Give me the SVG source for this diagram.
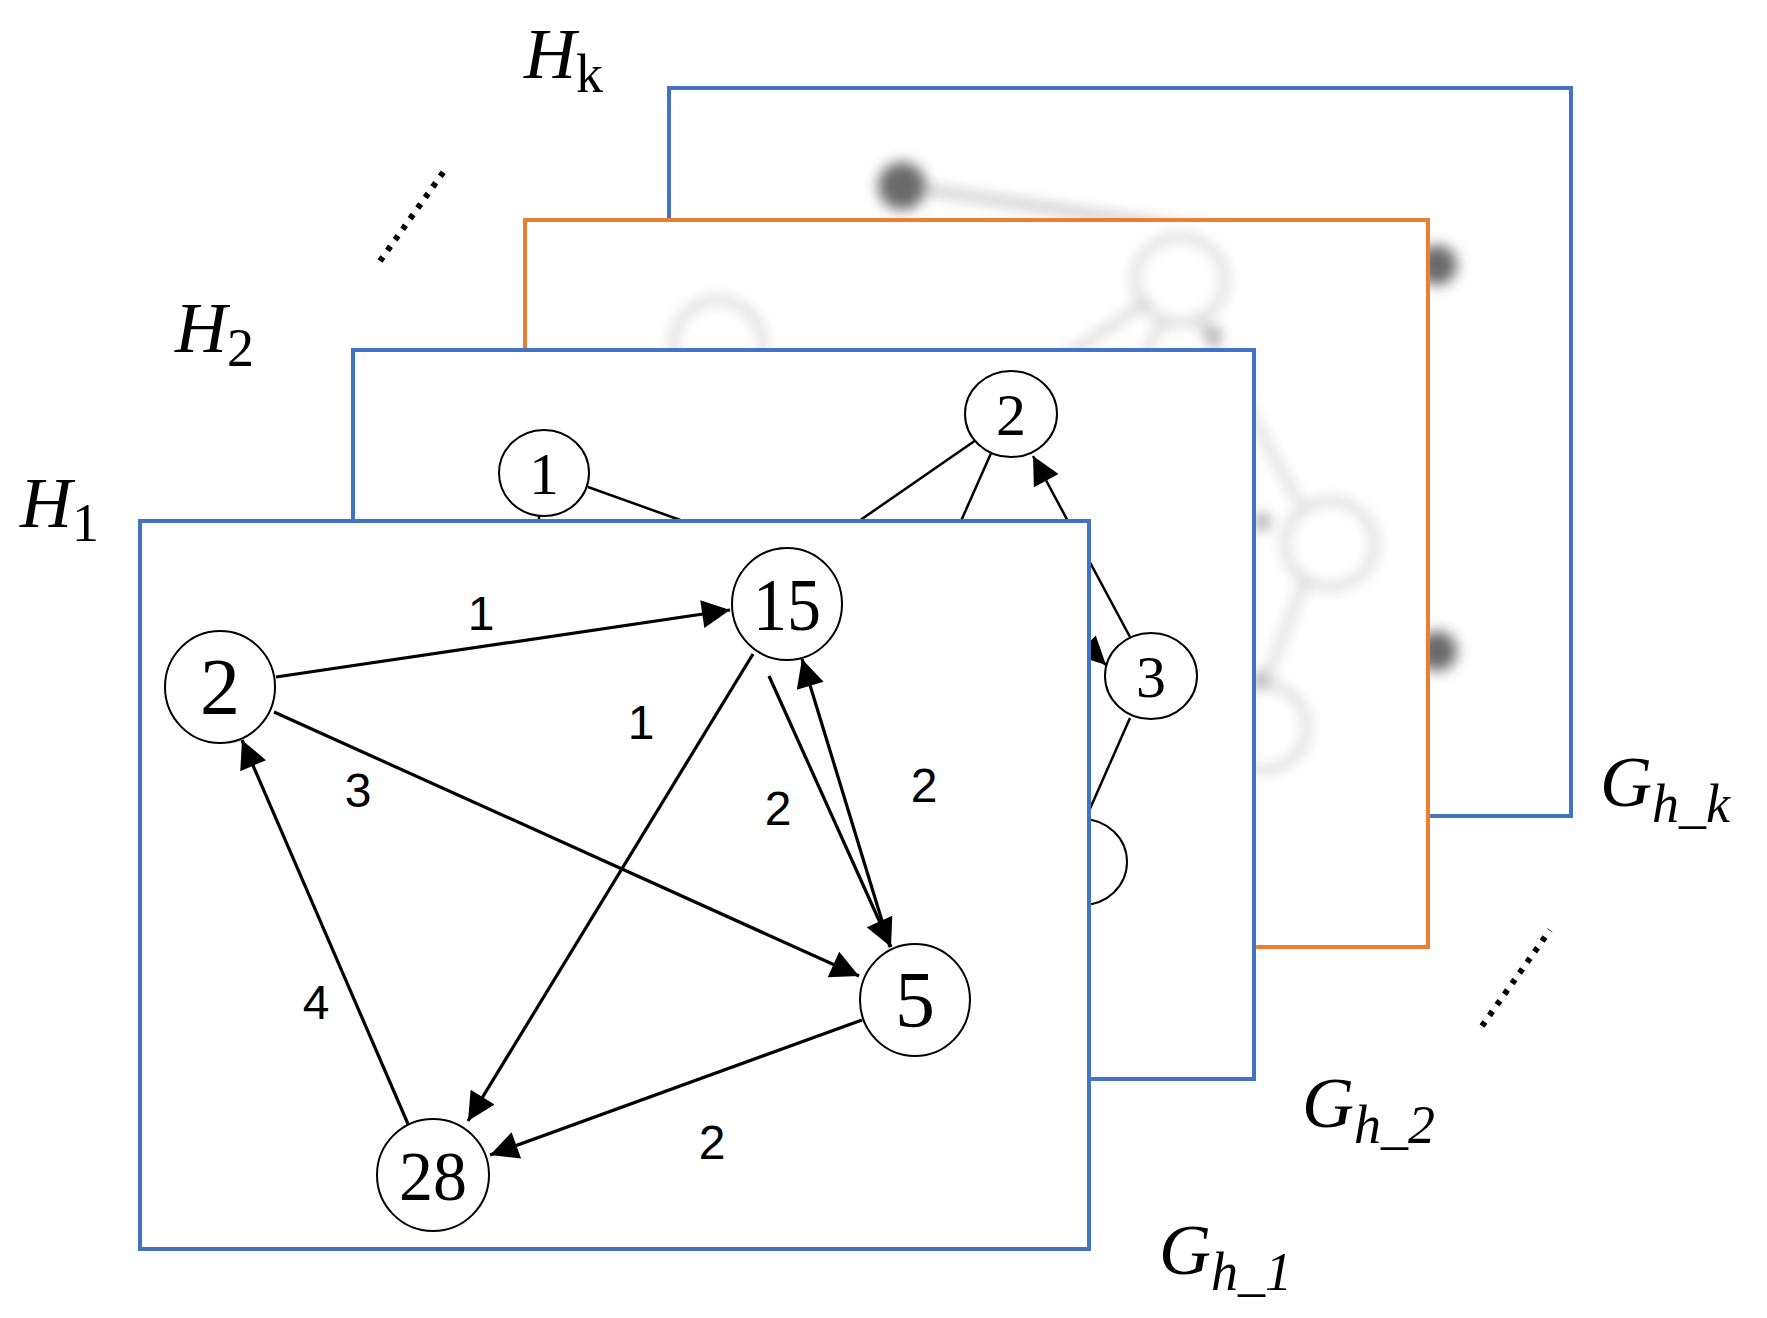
<svg xmlns="http://www.w3.org/2000/svg" width="1767" height="1318" viewBox="0 0 1767 1318">
<style>
.frame{fill:#fff;stroke-width:4}
.blue{stroke:#4472C4}
.orange{stroke:#ED7D31}
.node ellipse{fill:#fff;stroke:#000;stroke-width:2}
.ntxt{font-family:"Liberation Serif","Times New Roman",serif;text-anchor:middle;fill:#000}
.e{stroke:#000;stroke-width:3.2;fill:none}
.elab{font-family:"Liberation Sans",sans-serif;font-size:48px;text-anchor:middle;fill:#000}
.lab{font-family:"Liberation Serif",serif;font-style:italic;font-size:72px;fill:#000}
.sub{font-size:54px}
.dots{stroke:#000;stroke-width:6;stroke-dasharray:5 8;fill:none}
</style>
<defs>
<marker id="ahB" viewBox="0 0 10 10" refX="10" refY="5" markerWidth="32" markerHeight="28" markerUnits="userSpaceOnUse" orient="auto"><path d="M0,0 L10,5 L0,10 z" fill="#000"/></marker>
<filter id="blur" x="-20%" y="-20%" width="140%" height="140%"><feGaussianBlur stdDeviation="7"/></filter>
</defs>

<g id="frame-hk">
<rect class="frame blue" x="669" y="88" width="902" height="728"/>
<g filter="url(#blur)" opacity="0.8">
<line x1="902" y1="186" x2="1431" y2="265" stroke="#999" stroke-width="6"/>
<circle cx="902" cy="186" r="24" fill="#444"/>
<circle cx="1437" cy="265" r="20" fill="#444"/>
<circle cx="1437" cy="651" r="20" fill="#444"/>
</g>
</g>

<g id="frame-h2">
<rect class="frame orange" x="525" y="220" width="903" height="727"/>
<g filter="url(#blur)" opacity="0.55" stroke="#777" stroke-width="4" fill="none">
<circle cx="718" cy="345" r="45"/>
<ellipse cx="1180" cy="280" rx="45" ry="43"/>
<ellipse cx="1330" cy="544" rx="45" ry="43"/>
<ellipse cx="1262" cy="727" rx="45" ry="43"/>
<line x1="1150" y1="300" x2="1060" y2="360"/>
<line x1="1165" y1="320" x2="1140" y2="360"/>
<line x1="1200" y1="320" x2="1300" y2="505"/>
<line x1="1305" y1="580" x2="1262" y2="690"/>
<circle cx="1213" cy="335" r="7" fill="#333"/>
<circle cx="1262" cy="522" r="7" fill="#333"/>
<circle cx="1260" cy="680" r="6" fill="#333"/>
</g>
</g>

<g id="frame-mid">
<rect class="frame blue" x="353" y="350" width="901" height="729"/>
<g id="mid-edges">
<line class="e" x1="588" y1="487" x2="683" y2="521" style="stroke-width:2.5"/>
<line class="e" x1="539" y1="515" x2="539" y2="522" style="stroke-width:2.5"/>
<line class="e" x1="976" y1="440" x2="859" y2="521" style="stroke-width:2.5"/>
<line class="e" x1="992" y1="451" x2="961" y2="521" style="stroke-width:2.5"/>
<line class="e" x1="1130" y1="637" x2="1033" y2="456" style="stroke-width:2.5" marker-end="url(#ahB)"/>
<line class="e" x1="1060" y1="620" x2="1106" y2="665" style="stroke-width:2.5" marker-end="url(#ahB)"/>
<line class="e" x1="1130" y1="718" x2="1089" y2="811" style="stroke-width:2.5"/>
</g>
<g id="m1" class="node"><ellipse cx="544" cy="473" rx="45" ry="43"/><text class="ntxt" x="544" y="494" font-size="60">1</text></g>
<g id="m2" class="node"><ellipse cx="1011" cy="414" rx="46" ry="43"/><text class="ntxt" x="1011" y="435" font-size="60">2</text></g>
<g id="m3" class="node"><ellipse cx="1151" cy="676" rx="46" ry="43"/><text class="ntxt" x="1151" y="697" font-size="60">3</text></g>
<g id="m4" class="node"><ellipse cx="1082" cy="862" rx="45" ry="43"/></g>
</g>

<g id="frame-front">
<rect class="frame blue" x="140" y="521" width="949" height="728"/>
</g>
<g id="connectors">
<line class="e" x1="276" y1="677" x2="730" y2="610" marker-end="url(#ahB)"/>
<line class="e" x1="274" y1="712" x2="859" y2="976" marker-end="url(#ahB)"/>
<line class="e" x1="753" y1="654" x2="468" y2="1121" marker-end="url(#ahB)"/>
<line class="e" x1="769" y1="676" x2="891" y2="947" marker-end="url(#ahB)"/>
<line class="e" x1="890" y1="947" x2="802" y2="659" marker-end="url(#ahB)"/>
<line class="e" x1="862" y1="1020" x2="490" y2="1155" marker-end="url(#ahB)"/>
<line class="e" x1="408" y1="1124" x2="242" y2="740" marker-end="url(#ahB)"/>
<text class="elab" x="481" y="630">1</text>
<text class="elab" x="358" y="807">3</text>
<text class="elab" x="641" y="739">1</text>
<text class="elab" x="778" y="825">2</text>
<text class="elab" x="924" y="802">2</text>
<text class="elab" x="712" y="1159">2</text>
<text class="elab" x="316" y="1019">4</text>
</g>
<g id="n2" class="node"><ellipse cx="220" cy="687" rx="55" ry="56"/><text class="ntxt" x="220" y="714" font-size="80" textLength="40" lengthAdjust="spacingAndGlyphs">2</text></g>
<g id="n15" class="node"><ellipse cx="787" cy="604" rx="55" ry="56"/><text class="ntxt" x="787" y="630" font-size="74" textLength="68" lengthAdjust="spacingAndGlyphs">15</text></g>
<g id="n5" class="node"><ellipse cx="915" cy="1000" rx="55" ry="56"/><text class="ntxt" x="915" y="1027" font-size="80" textLength="40" lengthAdjust="spacingAndGlyphs">5</text></g>
<g id="n28" class="node"><ellipse cx="433" cy="1175" rx="56" ry="56"/><text class="ntxt" x="433" y="1200" font-size="70" textLength="68" lengthAdjust="spacingAndGlyphs">28</text></g>

<text class="lab" x="524" y="78">H<tspan class="sub" font-style="normal" dy="14">k</tspan></text>
<text class="lab" x="175" y="352">H<tspan class="sub" font-style="normal" dy="14">2</tspan></text>
<text class="lab" x="20" y="527">H<tspan class="sub" font-style="normal" dy="14">1</tspan></text>
<text class="lab" x="1600" y="806">G<tspan class="sub" dy="16">h_k</tspan></text>
<text class="lab" x="1302" y="1127">G<tspan class="sub" dy="16">h_2</tspan></text>
<text class="lab" x="1159" y="1274">G<tspan class="sub" dy="16">h_1</tspan></text>
<line class="dots" x1="380" y1="261" x2="447" y2="167"/>
<line class="dots" x1="1482" y1="1026" x2="1550" y2="930"/>
</svg>
